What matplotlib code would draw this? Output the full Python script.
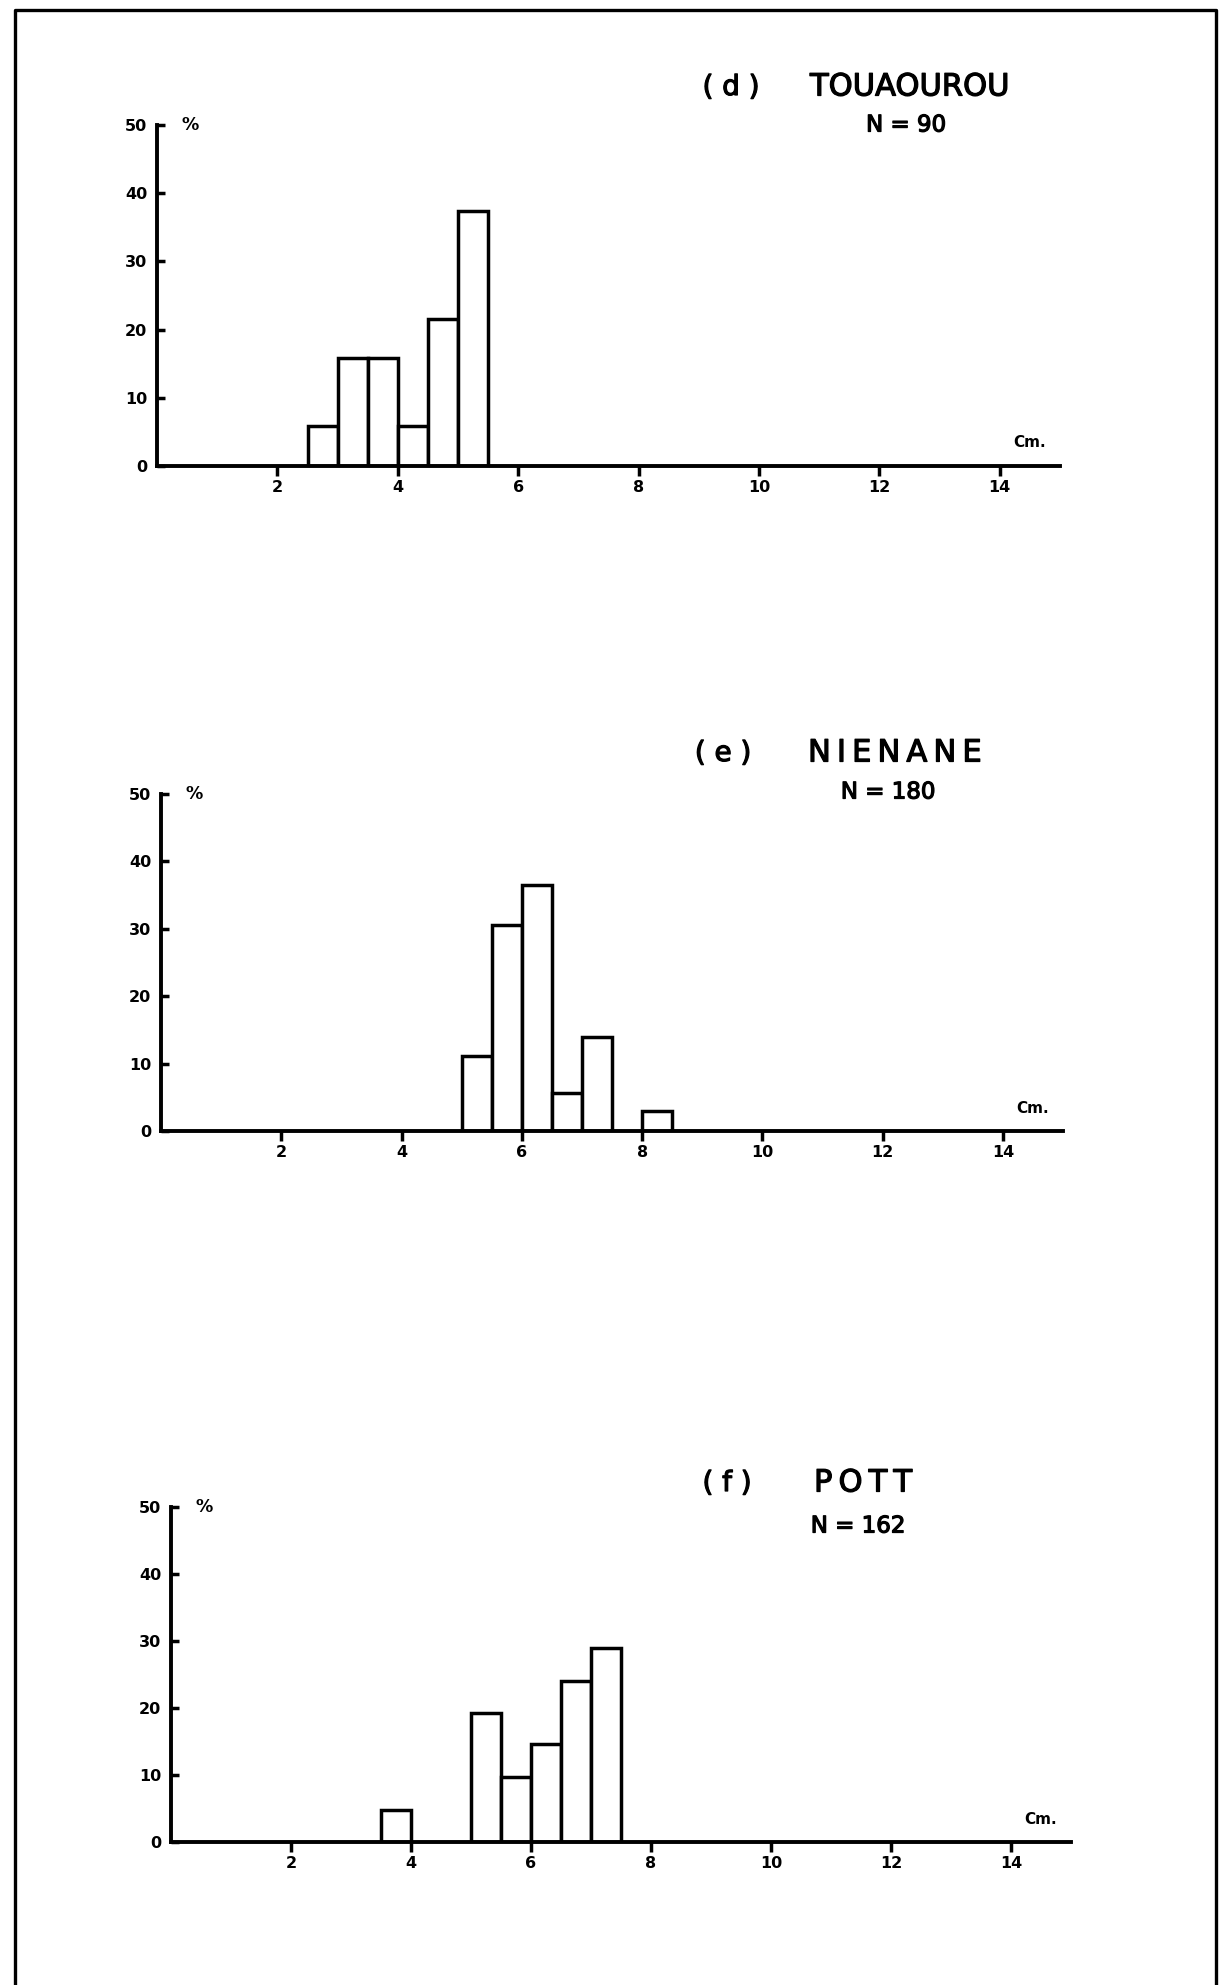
import matplotlib
matplotlib.use("Agg")
import matplotlib.pyplot as plt
import matplotlib.patheffects as pe
from matplotlib.lines import Line2D

# ---- data: length classes (cm, left edge of 0.5 cm bins) and % per class ----
bins_d = [2.5, 3.0, 3.5, 4.0, 4.5, 5.0]
pct_d = [5.8, 15.9, 15.9, 5.8, 21.5, 37.4]

bins_e = [5.0, 5.5, 6.0, 6.5, 7.0, 8.0]
pct_e = [11.1, 30.6, 36.5, 5.6, 14.0, 3.0]

bins_f = [3.5, 5.0, 5.5, 6.0, 6.5, 7.0]
pct_f = [4.8, 19.2, 9.7, 14.6, 24.1, 29.0]

panel_letters = ["( d )", "( e )", "( f )"]
site_names = ["TOUAOUROU", "NIENANE", "POTT"]
sample_sizes = ["N = 90", "N = 180", "N = 162"]

x_ticks = [2, 4, 6, 8, 10, 12, 14]
y_ticks = [0, 10, 20, 30, 40, 50]

W, H = 1220, 1985
fig = plt.figure(figsize=(W / 100, H / 100), dpi=100)
fig.patch.set_facecolor("white")


def fx(x):
    return x / W


def fy(y):
    return 1 - y / H


def spaced(s, gap="\u2009"):
    # lettering on the original is drawn with a stencil, a bit wider apart
    return gap.join(s)


# axes boxes in pixels: left, zero line, top (50 %), right end
boxes = [(157, 466, 125, 1060), (161, 1131, 794, 1063), (171, 1842, 1507, 1071)]
# title positions in pixels: letter centre, name left, N centre, title y, N y
titles = [(731, 810, 906, 87, 125), (723, 808, 888, 753, 792), (727, 814, 858, 1483, 1526)]
name_gap = ["", "\u2009", "\u2009"]

data = [(bins_d, pct_d), (bins_e, pct_e), (bins_f, pct_f)]
lw = 2.5
ink = [pe.withStroke(linewidth=0.9, foreground="black")]

for i, (bins, pct) in enumerate(data):
    l, z, t, r = boxes[i]
    ax = fig.add_axes([fx(l), fy(z), (r - l) / W, (z - t) / H])
    ax.bar(bins, pct, width=0.5, align="edge", color="white",
           edgecolor="black", linewidth=lw, zorder=3)
    ax.set_xlim(0, 15)
    ax.set_ylim(0, 50)
    for s in ["top", "right"]:
        ax.spines[s].set_visible(False)
    for s in ["left", "bottom"]:
        ax.spines[s].set_linewidth(lw + 0.3)
        ax.spines[s].set_zorder(4)
    ax.set_xticks(x_ticks)
    ax.set_yticks(y_ticks)
    ax.tick_params(axis="x", direction="out", length=7, width=lw, pad=3,
                   labelsize=11.5)
    ax.tick_params(axis="y", direction="in", length=6, width=lw, pad=7,
                   labelsize=11.5)
    for lab in ax.get_xticklabels() + ax.get_yticklabels():
        lab.set_fontweight("bold")
    ax.patch.set_alpha(0)

    ax.text(0.55, 50, "%", ha="center", va="center", fontsize=12.5,
            fontweight="bold", clip_on=False)
    ax.text(14.5, 3.4, "Cm.", ha="center", va="center", fontsize=11,
            fontweight="bold", clip_on=False)

    cx, nx, ncx, ty, ny = titles[i]
    fig.text(fx(cx), fy(ty), panel_letters[i], ha="center", va="center",
             fontsize=20, path_effects=ink)
    name = spaced(site_names[i], name_gap[i]) if name_gap[i] else site_names[i]
    fig.text(fx(nx), fy(ty), name, ha="left", va="center",
             fontsize=22, path_effects=ink)
    fig.text(fx(ncx), fy(ny), sample_sizes[i], ha="center", va="center",
             fontsize=16.5, path_effects=ink)

# page frame (open at the bottom)
fig.add_artist(Line2D([fx(15), fx(15), fx(1216), fx(1216)],
                      [0, fy(10), fy(10), 0], color="black", linewidth=2.4,
                      transform=fig.transFigure))

fig.savefig("out.png", dpi=100, facecolor="white")
